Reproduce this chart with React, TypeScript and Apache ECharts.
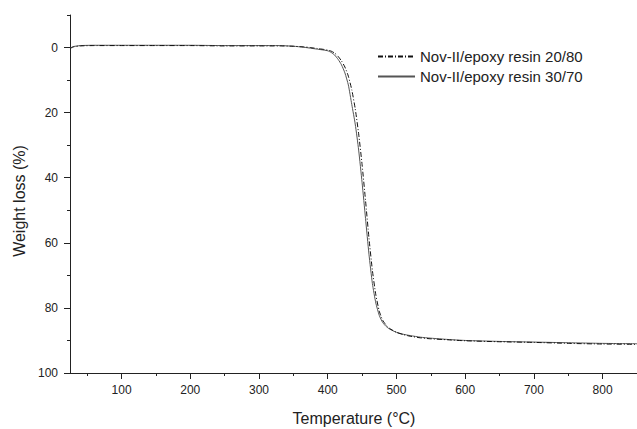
import React, { useEffect, useRef } from "react";
import * as echarts from "echarts";

const temps = [25, 30, 40, 60, 100, 150, 200, 250, 300, 330, 350, 365, 375, 385, 395, 400, 405, 410, 415, 420, 425, 430, 435, 440, 445, 450, 455, 460, 465, 470, 475, 480, 485, 490, 500, 510, 520, 535, 550, 575, 600, 650, 700, 750, 800, 850];

const loss2080 = [0.3, -0.2, -0.5, -0.6, -0.6, -0.6, -0.6, -0.5, -0.5, -0.5, -0.4, -0.2, 0.0, 0.3, 0.6, 0.8, 1.1, 1.7, 2.7, 4.1, 6.0, 8.8, 13.0, 18.8, 26.5, 36, 47, 58.5, 68.5, 76, 81, 83.8, 85.3, 86.3, 87.5, 88.2, 88.7, 89.2, 89.5, 89.8, 90.1, 90.4, 90.6, 90.9, 91.1, 91.2];

const loss3070 = [0.2, -0.3, -0.6, -0.7, -0.7, -0.7, -0.7, -0.6, -0.6, -0.6, -0.4, -0.1, 0.2, 0.5, 0.8, 1.0, 1.5, 2.3, 3.6, 5.3, 7.8, 11.5, 17.5, 23.5, 31.5, 41.5, 52.5, 63.5, 72.5, 78.5, 82.3, 84.5, 85.7, 86.5, 87.5, 88.1, 88.5, 89.0, 89.3, 89.7, 90.0, 90.3, 90.5, 90.7, 90.9, 91.0];

const seriesNames = ["Nov-II/epoxy resin 20/80", "Nov-II/epoxy resin 30/70"];
const xMajor = [100, 200, 300, 400, 500, 600, 700, 800];
const xMinor = [50, 150, 250, 350, 450, 550, 650, 750, 850];
const yMajor = [0, 20, 40, 60, 80, 100];
const yMinor = [-10, 10, 30, 50, 70, 90];
const xTitle = "Temperature (°C)";
const yTitle = "Weight loss (%)";

const FONT = "Liberation Sans, Arial, Helvetica, sans-serif";
const AX = "#222";

export default function App() {
  const ref = useRef<HTMLDivElement>(null);
  useEffect(() => {
    if (!ref.current) return;
    const chart = echarts.init(ref.current, undefined, { renderer: "svg" });
    const axisBase = { type: "value", min: 25, max: 850 };
    chart.setOption({
      animation: false,
      backgroundColor: "#fff",
      textStyle: { fontFamily: FONT },
      grid: { left: 70, right: 0, top: 15, bottom: 56, containLabel: false },
      legend: {
        orient: "vertical",
        left: 372,
        top: 44,
        itemWidth: 37,
        itemHeight: 12,
        itemGap: 5,
        itemStyle: { opacity: 0 },
        textStyle: { fontSize: 15, color: "#222", fontFamily: FONT },
        data: seriesNames,
      },
      xAxis: [
        {
          ...axisBase,
          position: "bottom",
          axisLine: { show: true, onZero: false, lineStyle: { color: AX, width: 1 } },
          axisTick: { show: true, customValues: xMajor, length: 6, lineStyle: { color: AX } },
          axisLabel: { customValues: xMajor, margin: 11, fontSize: 12, color: "#222", fontFamily: FONT },
          splitLine: { show: false },
        },
        {
          ...axisBase,
          position: "bottom",
          axisLine: { show: false, onZero: false },
          axisTick: { show: true, customValues: xMinor, length: 3, lineStyle: { color: AX } },
          axisLabel: { show: false },
          splitLine: { show: false },
        },
      ],
      yAxis: [
        {
          type: "value",
          min: -10,
          max: 100,
          inverse: true,
          position: "left",
          axisLine: { show: true, onZero: false, lineStyle: { color: AX, width: 1 } },
          axisTick: { show: true, customValues: yMajor, length: 6, lineStyle: { color: AX } },
          axisLabel: { customValues: yMajor, margin: 12, fontSize: 12, color: "#222", fontFamily: FONT },
          splitLine: { show: false },
        },
        {
          type: "value",
          min: -10,
          max: 100,
          inverse: true,
          position: "left",
          axisLine: { show: false, onZero: false },
          axisTick: { show: true, customValues: yMinor, length: 3, lineStyle: { color: AX } },
          axisLabel: { show: false },
          splitLine: { show: false },
        },
      ],
      graphic: [
        {
          type: "text",
          x: 19,
          y: 201,
          rotation: Math.PI / 2,
          style: { text: yTitle, fontSize: 16, fontFamily: FONT, fill: "#222", align: "center", verticalAlign: "middle" },
        },
        {
          type: "text",
          x: 354,
          y: 418,
          style: { text: xTitle, fontSize: 16, fontFamily: FONT, fill: "#222", align: "center", verticalAlign: "middle" },
        },
      ],
      series: [
        {
          name: seriesNames[0],
          type: "line",
          xAxisIndex: 0,
          yAxisIndex: 0,
          symbol: "none",
          smooth: 0.2,
          data: temps.map((t, i) => [t, loss2080[i]]),
          lineStyle: { color: "#111", width: 1, type: [5, 2, 1, 2] },
          itemStyle: { color: "#111" },
          z: 3,
        },
        {
          name: seriesNames[1],
          type: "line",
          xAxisIndex: 0,
          yAxisIndex: 0,
          symbol: "none",
          smooth: 0.2,
          data: temps.map((t, i) => [t, loss3070[i]]),
          lineStyle: { color: "#555", width: 1, type: "solid" },
          itemStyle: { color: "#555" },
          z: 2,
        },
      ],
    });
    return () => chart.dispose();
  }, []);
  return (
    <div
      ref={ref}
      style={{ position: "fixed", left: 0, top: 0, width: 637, height: 429, background: "#fff" }}
    />
  );
}
